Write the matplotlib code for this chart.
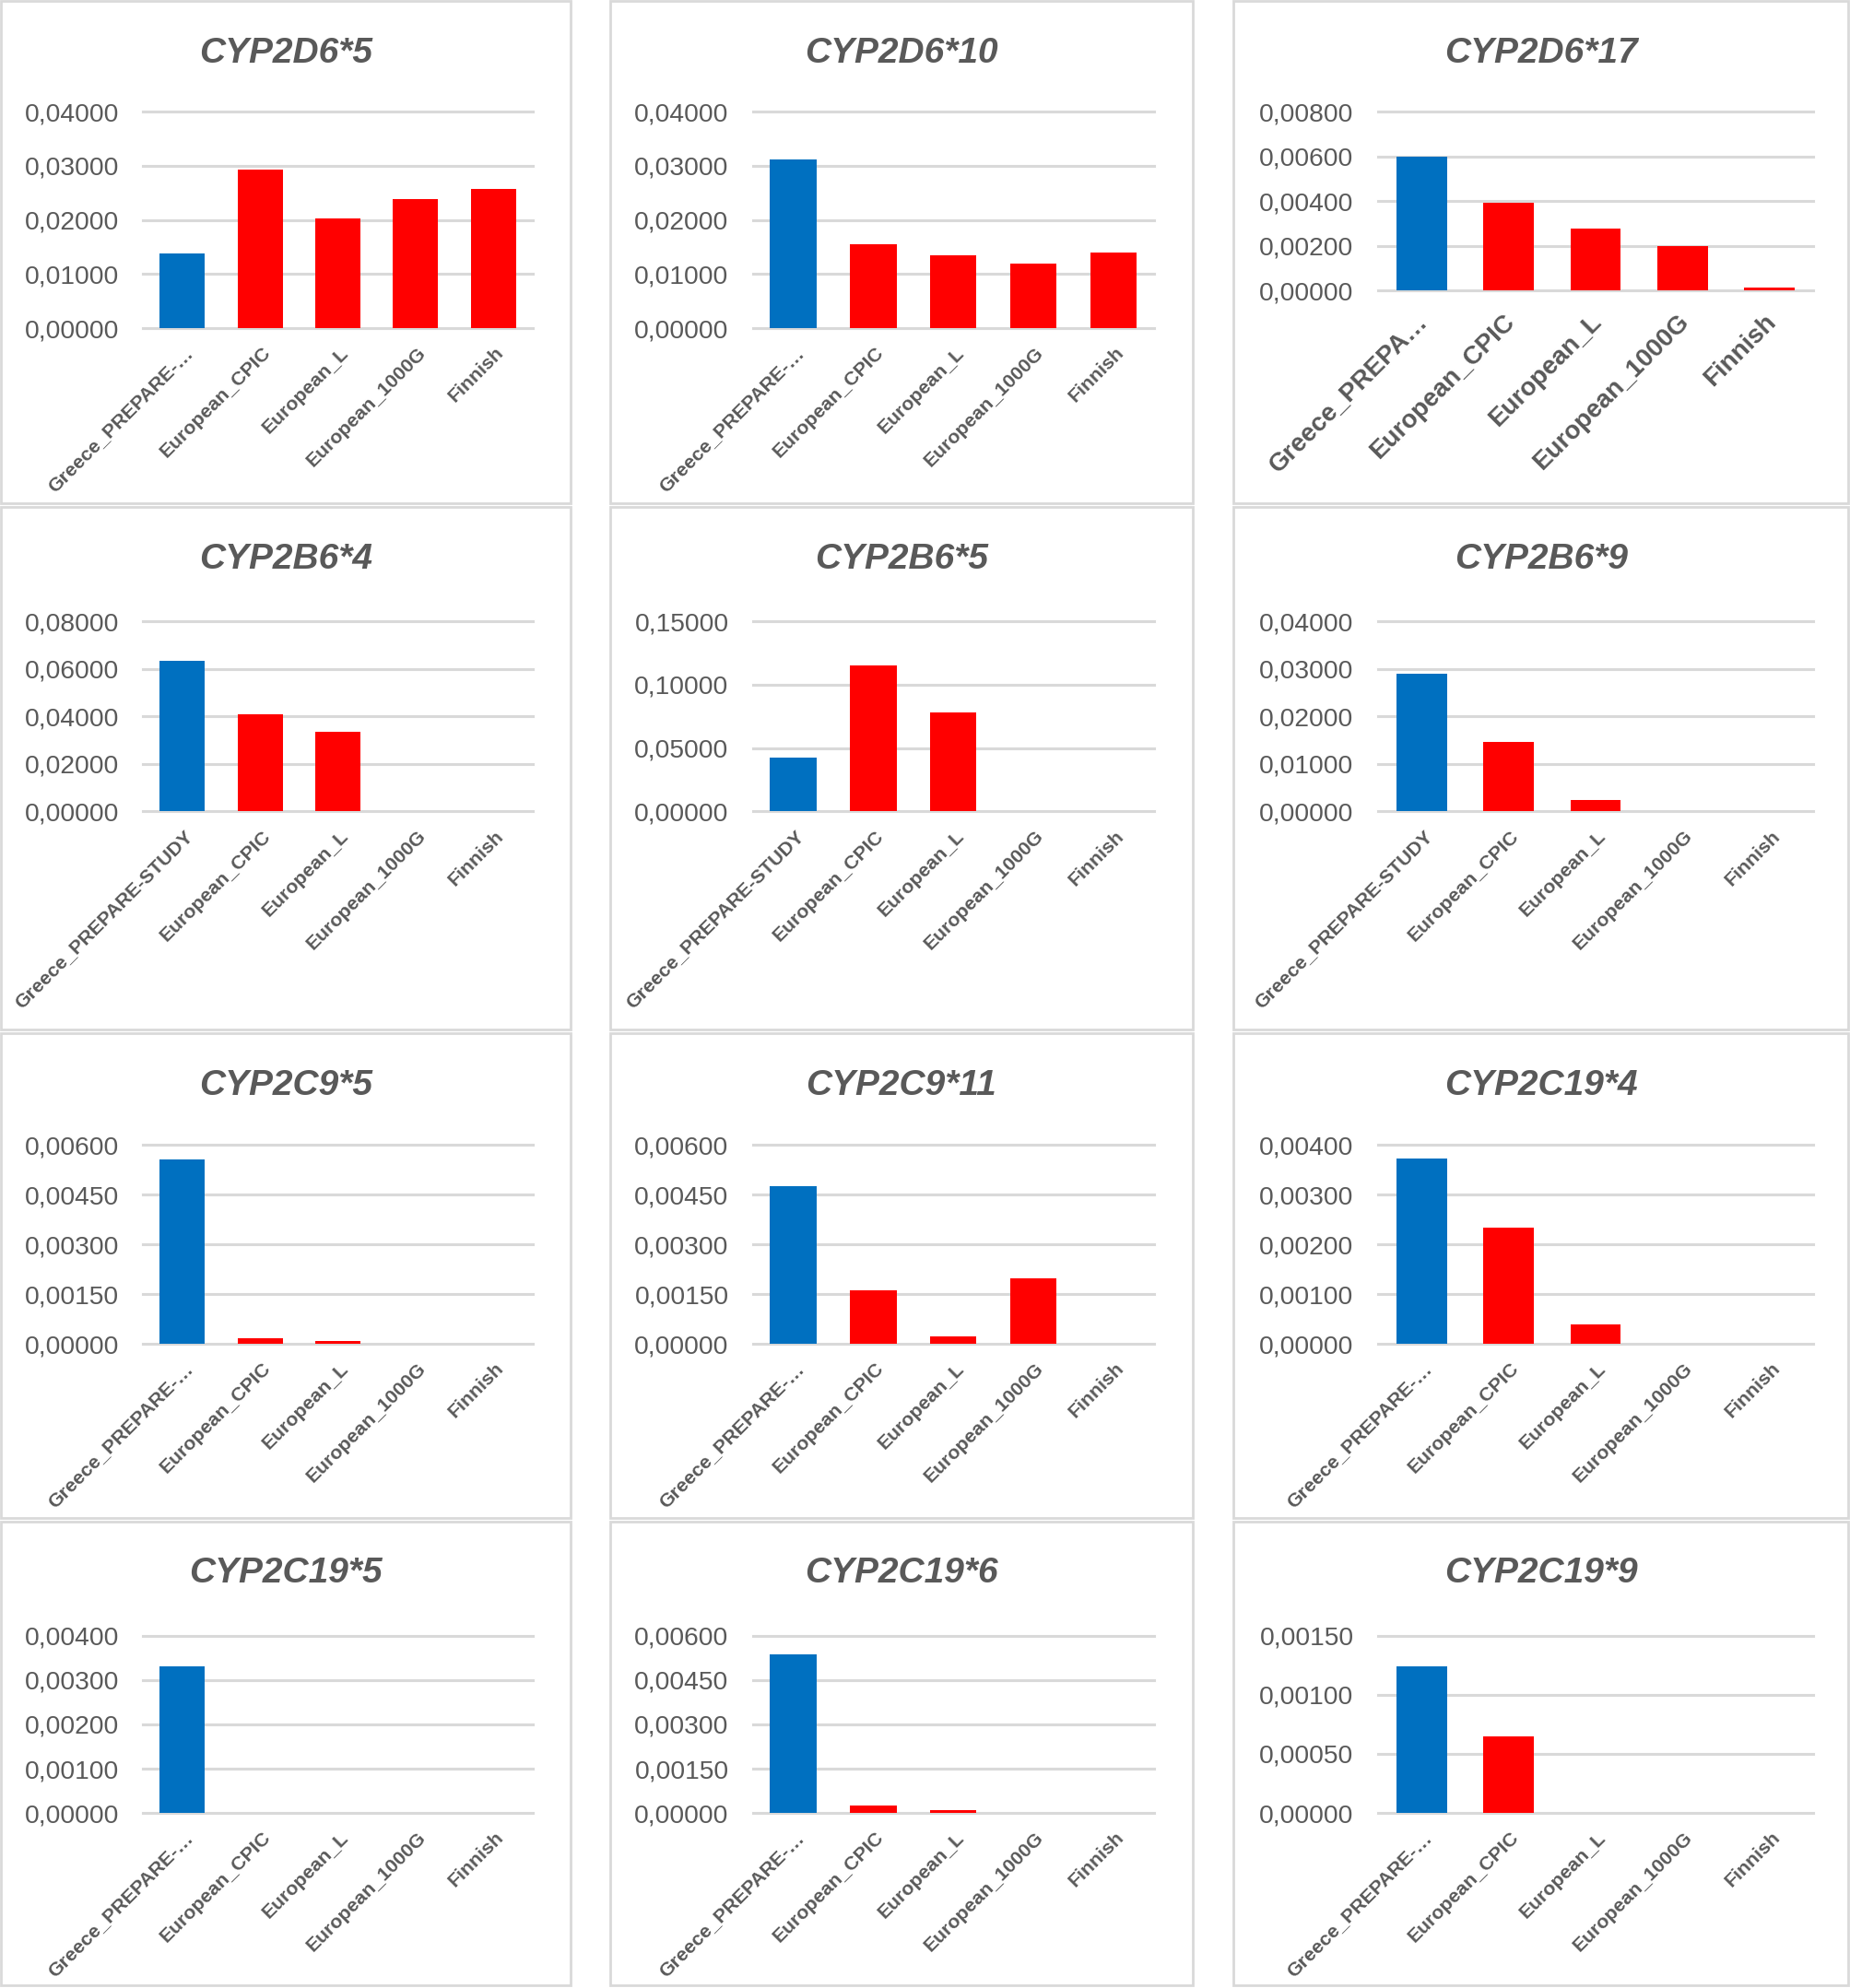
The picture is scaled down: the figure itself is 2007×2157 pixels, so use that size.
import numpy as np
import matplotlib
matplotlib.use("Agg")
import matplotlib.pyplot as plt
import matplotlib.transforms as mtransforms
from matplotlib.patches import Rectangle

plt.rcParams['font.family'] = ['Liberation Sans', 'DejaVu Sans']

populations = ["Greece_PREPARE-STUDY", "European_CPIC", "European_L", "European_1000G", "Finnish"]
alleles = ["CYP2D6*5", "CYP2D6*10", "CYP2D6*17",
           "CYP2B6*4", "CYP2B6*5", "CYP2B6*9",
           "CYP2C9*5", "CYP2C9*11", "CYP2C19*4",
           "CYP2C19*5", "CYP2C19*6", "CYP2C19*9"]

# allele frequencies
cyp2d6_5 = [0.0138, 0.0293, 0.0202, 0.0238, 0.0257]
cyp2d6_10 = [0.0311, 0.0155, 0.0135, 0.0119, 0.0140]
cyp2d6_17 = [0.00597, 0.00390, 0.00276, 0.00196, 0.00012]
cyp2b6_4 = [0.0635, 0.0408, 0.0336, 0, 0]
cyp2b6_5 = [0.0426, 0.1151, 0.0778, 0, 0]
cyp2b6_9 = [0.0289, 0.0147, 0.0025, 0, 0]
cyp2c9_5 = [0.00556, 0.00016, 0.00010, 0, 0]
cyp2c9_11 = [0.00476, 0.00163, 0.00022, 0.00199, 0]
cyp2c19_4 = [0.00372, 0.00234, 0.00039, 0, 0]
cyp2c19_5 = [0.00330, 0, 0, 0, 0]
cyp2c19_6 = [0.00537, 0.00026, 0.00010, 0, 0]
cyp2c19_9 = [0.00124, 0.00065, 0, 0, 0]

values = [cyp2d6_5, cyp2d6_10, cyp2d6_17, cyp2b6_4, cyp2b6_5, cyp2b6_9,
          cyp2c9_5, cyp2c9_11, cyp2c19_4, cyp2c19_5, cyp2c19_6, cyp2c19_9]

y_max = [0.04, 0.04, 0.008, 0.08, 0.15, 0.04, 0.006, 0.006, 0.004, 0.004, 0.006, 0.0015]
y_step = [0.01, 0.01, 0.002, 0.02, 0.05, 0.01, 0.0015, 0.0015, 0.001, 0.001, 0.0015, 0.0005]

# first category gets cut by Excel in some panels
first_label = ["Greece_PREPARE-…", "Greece_PREPARE-…", "Greece_PREPA…",
               "Greece_PREPARE-STUDY", "Greece_PREPARE-STUDY", "Greece_PREPARE-STUDY",
               "Greece_PREPARE-…", "Greece_PREPARE-…", "Greece_PREPARE-…",
               "Greece_PREPARE-…", "Greece_PREPARE-…", "Greece_PREPARE-…"]

bar_colors = ["#0070C0", "#FF0000", "#FF0000", "#FF0000", "#FF0000"]
grey = "#595959"
light = "#d9d9d9"

# layout in reference pixels (1460 x 1568 grid)
W, H = 1460.0, 1568.0
col_box = [(1, 450), (481, 941), (973, 1458)]
row_box = [(1, 397), (400, 812), (815, 1197), (1200, 1566)]
col_plot = [(113, 420), (594, 910), (1087, 1430)]
row_plot = [(88, 259), (490, 640), (903, 1060), (1290, 1430)]

fig = plt.figure(figsize=(20.08, 21.57), dpi=100)
fig.patch.set_facecolor("white")
shift = mtransforms.ScaledTranslation(6 / 72, -5 / 72, fig.dpi_scale_trans)
shift_big = mtransforms.ScaledTranslation(2 / 72, -10 / 72, fig.dpi_scale_trans)

for i in range(12):
    r, c = divmod(i, 3)
    bx0, bx1 = col_box[c]
    by0, by1 = row_box[r]
    fig.patches.append(Rectangle((bx0 / W, 1 - by1 / H), (bx1 - bx0) / W, (by1 - by0) / H,
                                 transform=fig.transFigure, fill=False,
                                 edgecolor=light, linewidth=2))

    px0, px1 = col_plot[c]
    top, zero = row_plot[r]
    if i == 2:
        top, zero = 88, 229
    ax = fig.add_axes([px0 / W, 1 - zero / H, (px1 - px0) / W, (zero - top) / H])

    x = np.arange(len(populations))
    ax.bar(x, values[i], width=0.58, color=bar_colors, zorder=3)
    ax.set_xlim(-0.5, len(populations) - 0.5)
    ax.set_ylim(0, y_max[i])
    ticks = np.arange(0, y_max[i] + y_step[i] / 2, y_step[i])
    ax.set_yticks(ticks)
    ax.set_yticklabels([("%.5f" % t).replace(".", ",") for t in ticks],
                       fontsize=20.3, color=grey)
    ax.yaxis.grid(True, color=light, linewidth=2.2)
    for gl in ax.get_ygridlines():
        gl.set_clip_on(False)
    ax.set_axisbelow(True)
    for s in ax.spines.values():
        s.set_visible(False)
    ax.tick_params(axis="y", length=0, pad=19)
    ax.tick_params(axis="x", length=0, pad=12)

    labels = [first_label[i]] + populations[1:]
    fs = 20 if i == 2 else 15.3
    ax.set_xticks(x)
    ax.set_xticklabels(labels, rotation=45, ha="right", va="center",
                       rotation_mode="anchor", fontsize=fs, fontweight="bold", color=grey)
    for lab in ax.get_xticklabels():
        lab.set_transform(lab.get_transform() + (shift_big if i == 2 else shift))

    fig.text((bx0 + bx1) / 2 / W, 1 - (by0 + 41) / H, alleles[i], ha="center", va="center",
             fontsize=28, fontweight="bold", fontstyle="italic", color=grey)

fig.savefig("out.png", dpi=100, facecolor="white")
